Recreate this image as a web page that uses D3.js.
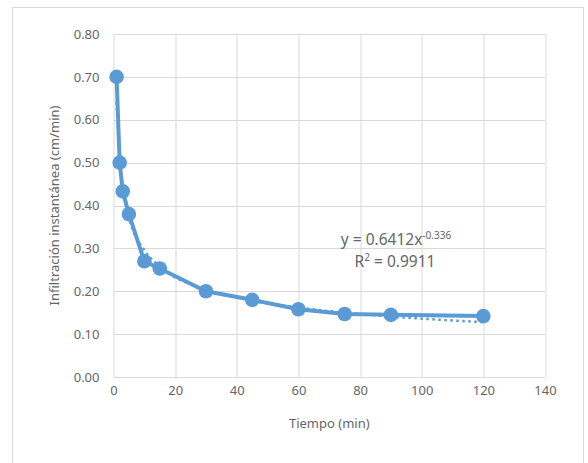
<!DOCTYPE html>
<html>
<head>
<meta charset="utf-8">
<script src="https://cdn.jsdelivr.net/npm/d3@7"></script>
<style>
  body { margin: 0; background: #fff; }
  text { font-family: "Noto Sans", sans-serif; fill: #666; }
</style>
</head>
<body>
<script>
// Data
var tiempo = [1, 2, 3, 5, 10, 15, 30, 45, 60, 75, 90, 120];
var infiltracion = [0.70, 0.50, 0.433, 0.38, 0.27, 0.253, 0.20, 0.18, 0.158, 0.147, 0.145, 0.142];
// Dotted power trendline as it appears on the chart
var tendencia = [0.641, 0.508, 0.443, 0.373, 0.296, 0.258, 0.204, 0.178, 0.162, 0.150, 0.141, 0.128];
var xTicks = [0, 20, 40, 60, 80, 100, 120, 140];
var yTicks = [0, 0.1, 0.2, 0.3, 0.4, 0.5, 0.6, 0.7, 0.8];

var svgWidth = 588;
var svgHeight = 463;

var margin = { top: 34, right: 43, bottom: 86, left: 113.5 };
var width = svgWidth - margin.left - margin.right;
var height = svgHeight - margin.top - margin.bottom;

var svg = d3.select("body")
  .append("svg")
  .attr("width", svgWidth)
  .attr("height", svgHeight);

// outer chart border
svg.append("rect")
  .attr("x", 12.5)
  .attr("y", 7.5)
  .attr("width", 571)
  .attr("height", 470)
  .attr("fill", "#fff")
  .attr("stroke", "#d9d9d9");

var chartGroup = svg.append("g")
  .attr("transform", `translate(${margin.left}, ${margin.top})`);

var x = d3.scaleLinear().domain([0, 140]).range([0, width]);
var y = d3.scaleLinear().domain([0, 0.8]).range([height, 0]);

// gridlines
chartGroup.append("g")
  .selectAll("line")
  .data(xTicks)
  .enter()
  .append("line")
  .attr("x1", d => Math.round(x(d)) + 0.5)
  .attr("x2", d => Math.round(x(d)) + 0.5)
  .attr("y1", 0)
  .attr("y2", height)
  .attr("stroke", "#d9d9d9");

chartGroup.append("g")
  .selectAll("line")
  .data(yTicks)
  .enter()
  .append("line")
  .attr("x1", 0)
  .attr("x2", width)
  .attr("y1", d => Math.round(y(d)) + 0.5)
  .attr("y2", d => Math.round(y(d)) + 0.5)
  .attr("stroke", "#d9d9d9");

// axes (labels only)
var bottomAxis = d3.axisBottom(x).tickValues(xTicks).tickSize(0).tickPadding(9);
var leftAxis = d3.axisLeft(y).tickValues(yTicks).tickFormat(d3.format(".2f")).tickSize(0).tickPadding(14);

var gx = chartGroup.append("g")
  .attr("transform", `translate(0, ${height})`)
  .call(bottomAxis);
var gy = chartGroup.append("g").call(leftAxis);

[gx, gy].forEach(function(g) {
  g.select(".domain").remove();
  g.selectAll("text")
    .style("font-family", "Noto Sans, sans-serif")
    .style("font-size", "13px")
    .attr("fill", "#666");
});

// trendline (drawn beneath the series)
var trendLine = d3.line()
  .x((d, i) => x(tiempo[i]))
  .y(d => y(d))
  .curve(d3.curveMonotoneX);

chartGroup.append("path")
  .datum(tendencia)
  .attr("d", trendLine)
  .attr("fill", "none")
  .attr("stroke", "#5b9bd5")
  .attr("stroke-width", 2.5)
  .attr("stroke-dasharray", "2.5,3.5");

// data series
var line = d3.line()
  .x((d, i) => x(tiempo[i]))
  .y(d => y(d));

chartGroup.append("path")
  .datum(infiltracion)
  .attr("d", line)
  .attr("fill", "none")
  .attr("stroke", "#5b9bd5")
  .attr("stroke-width", 4);

chartGroup.selectAll(".dot")
  .data(infiltracion)
  .enter()
  .append("circle")
  .attr("class", "dot")
  .attr("cx", (d, i) => x(tiempo[i]))
  .attr("cy", d => y(d))
  .attr("r", 7.3)
  .attr("fill", "#5b9bd5");

// equation label
var eq = svg.append("text")
  .attr("x", 396)
  .attr("y", 245)
  .attr("text-anchor", "middle")
  .style("font-size", "15.5px");
eq.append("tspan").text("y = 0.6412x");
eq.append("tspan")
  .attr("dy", -6)
  .style("font-size", "10px")
  .text("-0.336");

var r2 = svg.append("text")
  .attr("x", 395)
  .attr("y", 267)
  .attr("text-anchor", "middle")
  .style("font-size", "15.5px");
r2.append("tspan").text("R");
r2.append("tspan")
  .attr("dy", -6)
  .style("font-size", "10px")
  .text("2");
r2.append("tspan")
  .attr("dy", 6)
  .text(" = 0.9911");

// axis titles
svg.append("text")
  .attr("x", margin.left + width / 2)
  .attr("y", 428)
  .attr("text-anchor", "middle")
  .style("font-size", "13px")
  .text("Tiempo (min)");

svg.append("text")
  .attr("transform", `translate(59, ${margin.top + height / 2}) rotate(-90)`)
  .attr("text-anchor", "middle")
  .style("font-size", "13px")
  .text("Infiltración instantánea (cm/min)");
</script>
</body>
</html>
